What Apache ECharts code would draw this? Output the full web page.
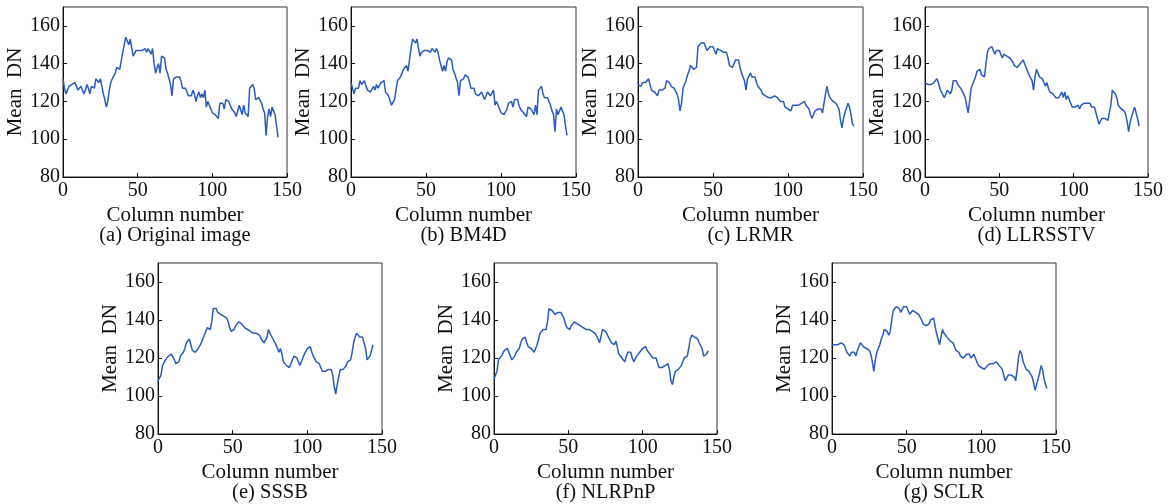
<!DOCTYPE html>
<html>
<head>
<meta charset="utf-8">
<script src="https://cdn.jsdelivr.net/npm/echarts@6/dist/echarts.min.js"></script>
<style>
html,body{margin:0;padding:0;background:#fff;}
#chart{width:1172px;height:504px;}
</style>
</head>
<body>
<div id="chart"></div>
<script>
// ---- data (mean DN per column) ----
const captions = ['(a) Original image', '(b) BM4D', '(c) LRMR', '(d) LLRSSTV', '(e) SSSB', '(f) NLRPnP', '(g) SCLR'];
const xTicks = [0, 50, 100, 150];
const yTicks = [80, 100, 120, 140, 160];
const xAxisName = 'Column number';
const yAxisName = 'Mean  DN';

const original = [132,127,124,126,128,127,129,128,130,131,126,125,128,127,124,126,129,127,124,128,
129,127,132,131,130,132,131,124,121,117,120,126,130,132,133,135,138,139,137,137,
146,150,154,155,150,153,152,144,144,147,147,147,146,147,146,148,146,148,147,145,
148,140,135,138,140,135,144,144,143,137,135,136,129,123,132,132,133,134,133,131,
127,128,127,126,123,124,123,126,124,120,123,125,122,124,122,126,117,120,118,116,
114,115,113,112,111,119,120,119,116,121,121,120,118,116,115,114,112,111,118,117,
113,118,114,113,112,127,128,129,127,121,122,122,121,119,116,114,102,112,116,112,
117,116,113,107,101];

const bm4d = [130,127,124,127,128,127,131,129,128,131,128,126,127,125,124,128,126,129,127,128,
130,131,131,125,124,123,122,118,117,121,126,131,132,133,135,137,138,139,136,137,
148,153,154,151,153,148,144,146,147,147,146,147,147,146,148,147,146,148,146,142,
139,136,139,136,141,143,143,142,137,135,134,130,123,131,132,132,134,134,133,130,
127,128,127,124,124,123,124,125,123,121,123,125,124,123,124,126,118,120,119,116,
114,115,113,114,116,119,120,120,117,121,121,121,118,116,115,114,113,112,117,118,
116,115,113,118,113,126,127,128,124,122,123,122,120,118,115,113,104,116,113,114,
117,116,113,107,102];

const lrmr = [129,129,128,130,129,130,130,132,129,126,127,125,124,123,126,125,126,125,127,131,
131,130,128,127,127,126,124,121,115,119,127,129,131,134,136,139,139,137,137,138,
149,150,151,151,151,150,147,147,149,148,149,147,145,148,148,147,147,146,145,146,
143,139,138,138,139,142,143,142,138,135,134,131,126,132,133,135,133,132,133,130,
128,127,126,124,124,123,123,122,122,122,122,123,124,122,123,120,121,120,117,116,
116,116,115,118,118,118,118,118,118,119,120,120,118,118,116,113,111,111,115,116,
116,116,116,114,113,124,128,124,122,122,120,119,119,118,116,110,106,111,114,115,
119,117,113,108,107];

const llrsstv = [130,129,129,130,129,130,130,131,132,130,127,125,124,122,123,126,126,124,126,131,
132,131,129,128,127,126,124,122,118,114,120,127,129,130,133,136,137,137,134,133,
133,140,146,148,148,149,148,145,147,148,147,146,143,145,144,144,143,143,143,141,
139,138,138,139,140,141,142,142,138,136,134,133,131,126,133,137,135,133,132,132,
131,128,130,127,125,125,124,123,122,121,122,123,125,122,125,121,123,122,119,117,
116,117,116,118,116,118,119,119,119,119,120,119,117,117,117,116,111,108,109,111,
111,111,111,110,109,118,126,127,124,122,118,117,116,115,115,113,109,104,109,112,
113,117,114,111,107];

const sssb = [108,107,111,116,117,119,120,121,122,122,121,119,117,117,118,121,122,123,125,128,
129,130,127,124,123,123,124,125,126,128,130,132,134,136,137,135,139,146,147,146,
144,144,143,143,142,142,141,139,136,134,134,135,137,138,139,140,138,137,136,135,
135,134,134,133,133,134,133,132,132,130,129,128,128,131,135,133,132,130,129,127,
126,123,125,122,118,117,116,115,115,117,119,121,122,120,118,116,118,120,122,123,
125,125,126,123,121,120,118,117,117,116,113,114,113,114,114,113,114,111,105,101,
106,110,114,113,114,115,116,118,118,119,123,128,131,133,132,131,131,131,130,125,
119,118,121,124,127];

const nlrpnp = [109,110,113,119,120,121,122,124,125,125,123,121,119,119,121,123,124,125,128,130,
131,131,128,126,125,125,124,123,125,127,130,133,134,135,135,135,139,146,146,145,
144,143,143,144,144,144,144,141,138,136,135,135,137,138,139,140,138,137,137,136,
136,136,135,135,135,135,134,134,133,132,130,128,129,135,135,134,133,131,130,128,
127,127,129,128,122,121,120,119,118,121,123,123,123,120,118,118,121,122,123,124,
125,126,126,124,123,122,121,120,120,120,119,115,114,115,115,116,117,117,114,108,
106,110,113,113,114,115,116,117,120,120,121,125,130,132,132,131,130,130,128,127,
125,121,120,122,124];

const sclr = [127,127,127,128,127,128,128,129,127,125,123,122,121,123,122,123,121,124,126,128,
127,126,125,125,124,124,122,118,113,119,123,125,127,130,132,135,135,134,132,134,
140,145,146,147,147,146,144,145,147,148,147,145,143,144,145,144,144,144,143,143,
140,138,137,137,137,138,140,141,141,137,133,132,127,131,135,133,132,131,131,129,
128,128,126,124,125,123,121,120,120,121,122,121,122,120,119,122,120,118,116,115,
115,115,114,115,116,117,117,117,117,116,118,118,116,115,114,111,108,109,111,111,
111,111,110,108,114,121,124,122,118,116,114,113,113,112,110,107,103,106,109,112,
116,114,109,106,104];

const allSeries = [original, bm4d, lrmr, llrsstv, sssb, nlrpnp, sclr];

// ---- layout ----
const grids = [
  {left: 63,  top: 7,   width: 224, height: 170},
  {left: 351, top: 7,   width: 225, height: 170},
  {left: 638, top: 7,   width: 225, height: 170},
  {left: 925, top: 7,   width: 223, height: 170},
  {left: 158, top: 263, width: 224, height: 171},
  {left: 494, top: 263, width: 223, height: 171},
  {left: 832, top: 263, width: 224, height: 171}
];
const captionTop = [225, 225, 225, 225, 482, 482, 482];

const FONT = '"Liberation Serif", "Times New Roman", serif';
const LINE_COLOR = '#2a5bbd';

const option = {
  animation: false,
  backgroundColor: '#fff',
  grid: grids.map(g => ({
    left: g.left, top: g.top, width: g.width, height: g.height,
    show: true, borderColor: '#333', borderWidth: 1, backgroundColor: 'transparent', containLabel: false
  })),
  title: grids.map((g, i) => ({
    text: captions[i],
    left: g.left + g.width / 2,
    top: captionTop[i],
    textAlign: 'center',
    padding: 0,
    textStyle: {fontFamily: FONT, fontSize: 20.5, fontWeight: 'normal', color: '#111'}
  })),
  xAxis: grids.map((g, i) => ({
    type: 'value', gridIndex: i,
    min: xTicks[0], max: xTicks[xTicks.length - 1], interval: xTicks[1] - xTicks[0],
    name: xAxisName, nameLocation: 'middle', nameGap: 28,
    nameTextStyle: {fontFamily: FONT, fontSize: 21, color: '#111'},
    axisLine: {show: true, lineStyle: {color: '#111', width: 1}},
    axisTick: {show: true, inside: true, length: 4, lineStyle: {color: '#111'}},
    axisLabel: {fontFamily: FONT, fontSize: 20, color: '#111', margin: 4},
    splitLine: {show: false}
  })),
  yAxis: grids.map((g, i) => ({
    type: 'value', gridIndex: i,
    min: yTicks[0], max: 170, interval: yTicks[1] - yTicks[0],
    name: yAxisName, nameLocation: 'middle', nameGap: 35, nameRotate: 90,
    nameTextStyle: {fontFamily: FONT, fontSize: 21, color: '#111'},
    axisLine: {show: true, lineStyle: {color: '#111', width: 1}},
    axisTick: {show: true, inside: true, length: 4, lineStyle: {color: '#111'}},
    axisLabel: {fontFamily: FONT, fontSize: 20, color: '#111', margin: 3, showMaxLabel: false,
      formatter: v => (yTicks.indexOf(v) >= 0 ? String(v) : '')},
    splitLine: {show: false}
  })),
  series: allSeries.map((vals, i) => ({
    type: 'line', xAxisIndex: i, yAxisIndex: i,
    data: vals.map((v, k) => [k, v]),
    showSymbol: false, symbol: 'none',
    lineStyle: {color: LINE_COLOR, width: 1.5},
    itemStyle: {color: LINE_COLOR}
  }))
};

const chart = echarts.init(document.getElementById('chart'), null, {renderer: 'canvas'});
chart.setOption(option);
</script>
</body>
</html>
